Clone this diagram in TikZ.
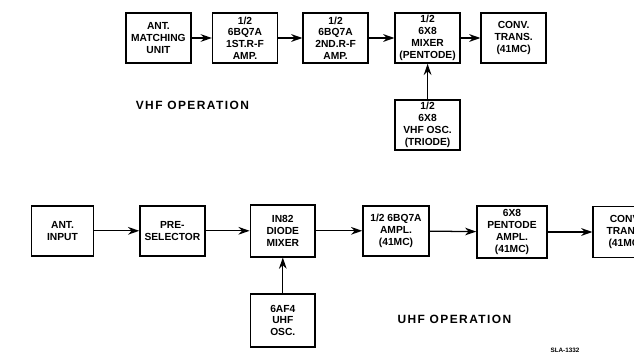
\documentclass[tikz,border=0pt]{standalone}
\usepackage{fontspec}
\setmainfont{Liberation Sans}
\newfontfamily\titlefont[LetterSpace=12]{Liberation Sans}
\usetikzlibrary{arrows.meta}

\begin{document}
\begin{tikzpicture}[
    block/.style={
        rectangle, draw=black, line width=1.1pt,
        minimum width=1.62cm, minimum height=1.25cm,
        align=center, inner sep=1pt,
        font=\fontsize{7.3}{8.4}\selectfont\bfseries
    },
    feeds/.style={-{Stealth[length=8pt,width=5.5pt]}, line width=0.9pt},
    caption/.style={font=\titlefont\fontsize{8.5}{10}\selectfont\bfseries}
]
\useasboundingbox (0,0) rectangle (15.85,-8.95);

% VHF chain
\node[block] (match) at (3.96, -0.95) {ANT.\\MATCHING\\UNIT};
\node[block] (rfone) at (6.125, -0.95) {1/2\\6BQ7A\\1ST.R-F\\AMP.};
\node[block] (rftwo) at (8.39, -0.95) {1/2\\6BQ7A\\2ND.R-F\\AMP.};
\node[block] (vmixer) at (10.69, -0.95) {1/2\\6X8\\MIXER\\(PENTODE)};
\node[block] (vconv) at (12.84, -0.95) {CONV.\\TRANS.\\(41MC)};
\node[block] (vosc) at (10.69, -3.125) {1/2\\6X8\\VHF OSC.\\(TRIODE)};
\node[caption] (vhf) at (4.81, -2.625) {VHF OPERATION};

% UHF chain
\node[block, minimum width=1.55cm] (antin) at (1.5625, -5.77) {ANT.\\INPUT};
\node[block] (presel) at (4.31, -5.77) {PRE-\\SELECTOR};
\node[block, minimum height=1.3cm] (diode) at (7.07, -5.77) {IN82\\DIODE\\MIXER};
\node[block, minimum width=1.65cm] (ampl) at (9.9, -5.77) {1/2 6BQ7A\\AMPL.\\(41MC)};
\node[block, minimum width=1.75cm, minimum height=1.3cm] (pentode) at (12.8, -5.8) {6X8\\PENTODE\\AMPL.\\(41MC)};
\node[block, minimum height=1.28cm] (uconv) at (15.64, -5.8) {CONV.\\TRANS.\\(41MC)};
\node[block, minimum height=1.32cm] (uosc) at (7.07, -8.01) {6AF4\\UHF\\OSC.};
\node[caption] (uhf) at (11.36, -7.975) {UHF OPERATION};

\node[font=\fontsize{4.5}{5}\selectfont\bfseries] (sla) at (14.125, -8.75) {SLA-1332};

% Connections
\draw[feeds] (match) -- (rfone);
\draw[feeds] (rfone) -- (rftwo);
\draw[feeds] (rftwo) -- (vmixer);
\draw[feeds] (vmixer) -- (vconv);
\draw[feeds] (vosc) -- (vmixer);

\draw[feeds] (antin) -- (presel);
\draw[feeds] (presel) -- (diode);
\draw[feeds] (diode) -- (ampl);
\draw[feeds] (ampl) -- (pentode);
\draw[feeds] (pentode) -- (uconv);
\draw[feeds] (uosc) -- (diode);

\end{tikzpicture}
\end{document}
